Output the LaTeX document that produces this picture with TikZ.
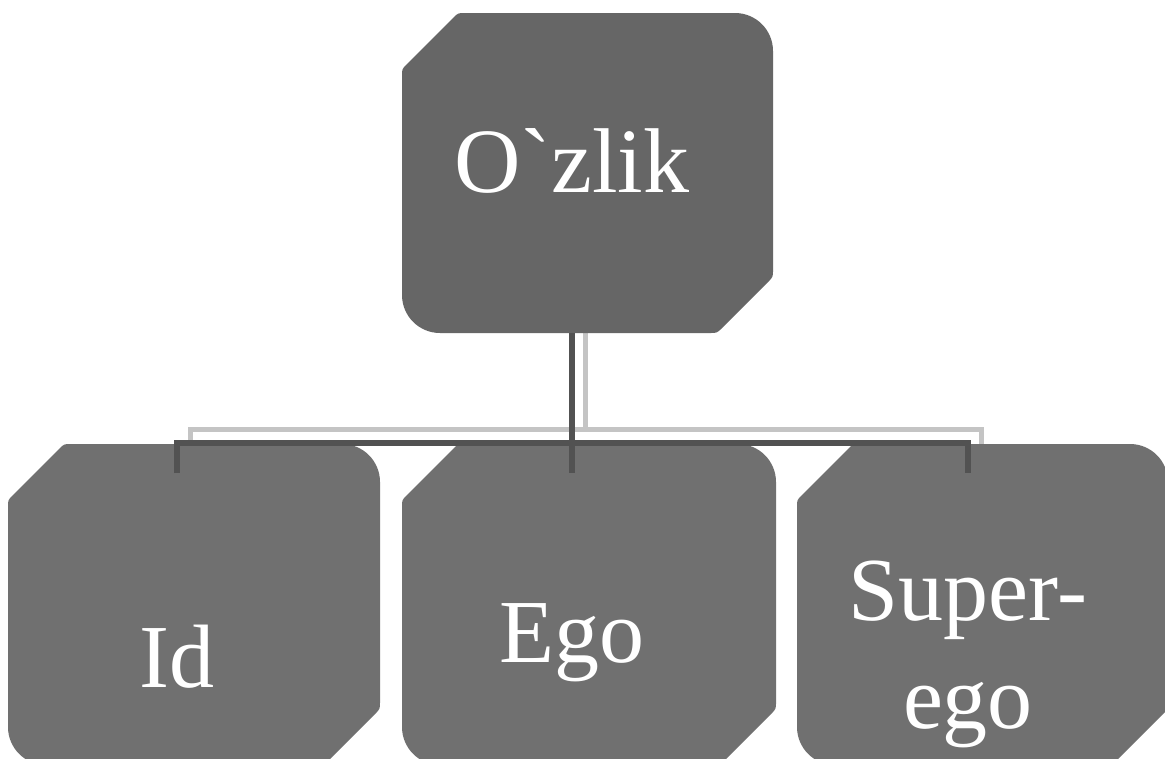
\documentclass[tikz,border=0pt]{standalone}
\usepackage{fontspec}
\newfontfamily\lib{Liberation Serif}
\usetikzlibrary{calc}
\definecolor{topfill}{RGB}{102,102,102}
\definecolor{subfill}{RGB}{112,112,112}
\definecolor{conndark}{RGB}{82,82,82}
\definecolor{connlight}{RGB}{196,196,196}
\pgfdeclarelayer{bg}
\pgfdeclarelayer{shapes}
\pgfsetlayers{bg,shapes,main}
\tikzset{
  boxnode/.style={rectangle, inner sep=0pt, outer sep=0pt},
  lbl/.style={text=white, inner sep=0pt, font=\lib\fontsize{90}{108}\selectfont},
  toplbl/.style={text=white, inner sep=0pt, font=\lib\fontsize{92}{110}\selectfont},
  darkline/.style={draw=conndark, line width=5.5pt},
  lightline/.style={draw=connlight, line width=5pt},
}
% #1 node name, #2 width, #3 height, #4 fill colour
\newcommand\snipshape[4]{%
  \begin{scope}[shift={(#1.north west)}]
    \fill[#4] (0,63) .. controls (0,56) .. (5,51) -- (51,5) .. controls (56,0) .. (63,0)
      -- ({#2-38},0) .. controls ({#2-17},0) and (#2,17) .. (#2,38)
      -- (#2,{#3-63}) .. controls (#2,{#3-56}) .. ({#2-5},{#3-51})
      -- ({#2-51},{#3-5}) .. controls ({#2-56},#3) .. ({#2-63},#3)
      -- (38,#3) .. controls (17,#3) and (0,{#3-17}) .. (0,{#3-38}) -- cycle;
  \end{scope}}
\begin{document}
\begin{tikzpicture}[x=1pt, y=-1pt]
\useasboundingbox (0,0) rectangle (1165,758);
\begin{pgfonlayer}{bg}
  \fill[white] (0,0) rectangle (1165,758);
\end{pgfonlayer}

% box nodes
\node[boxnode, minimum width=371pt, minimum height=320pt] (top) at (587.5,173) {};
\node[boxnode, minimum width=372pt, minimum height=321pt] (id) at (194,604.5) {};
\node[boxnode, minimum width=374pt, minimum height=321pt] (ego) at (589,604.5) {};
\node[boxnode, minimum width=371pt, minimum height=321pt] (sup) at (982.5,604.5) {};

% labels
\node[toplbl, anchor=base] (toplabel) at (572,192) {O`zlik};
\node[lbl, anchor=base] (idlabel) at (177,687) {Id};
\node[lbl, anchor=base] (egolabel) at (572,662) {Ego};
\node[lbl, anchor=base, align=center] (suplabel) at (968,728) {Super-\\ego};

% box shapes
\begin{pgfonlayer}{shapes}
  \snipshape{top}{371}{320}{topfill}
  \snipshape{id}{372}{321}{subfill}
  \snipshape{ego}{374}{321}{subfill}
  \snipshape{sup}{371}{321}{subfill}
\end{pgfonlayer}

% connector points
\coordinate (busy) at (0,443);
\coordinate (dropy) at (0,473);
\coordinate (tdown) at (toplabel |- top.south);
\coordinate (tbus) at (toplabel |- busy);
\coordinate (ibus) at (idlabel |- busy);
\coordinate (idrop) at (idlabel |- dropy);
\coordinate (ebus) at (egolabel |- busy);
\coordinate (edrop) at (egolabel |- dropy);
\coordinate (sbus) at (suplabel |- busy);
\coordinate (sdrop) at (suplabel |- dropy);

% light offset copy of the connectors
\begin{pgfonlayer}{bg}
  \draw[lightline] ($(tdown)+(13,-14)$) -- ($(tbus)+(13,-14)$);
  \draw[lightline] ($(idrop)+(13,-14)$) -- ($(ibus)+(13,-14)$) -- ($(sbus)+(13,-14)$) -- ($(sdrop)+(13,-14)$);
\end{pgfonlayer}

% connectors
\draw[darkline] (tdown) -- (tbus);
\draw[darkline] (idrop) -- (ibus) -- (sbus) -- (sdrop);
\draw[darkline] (ebus) -- (edrop);
\end{tikzpicture}
\end{document}
